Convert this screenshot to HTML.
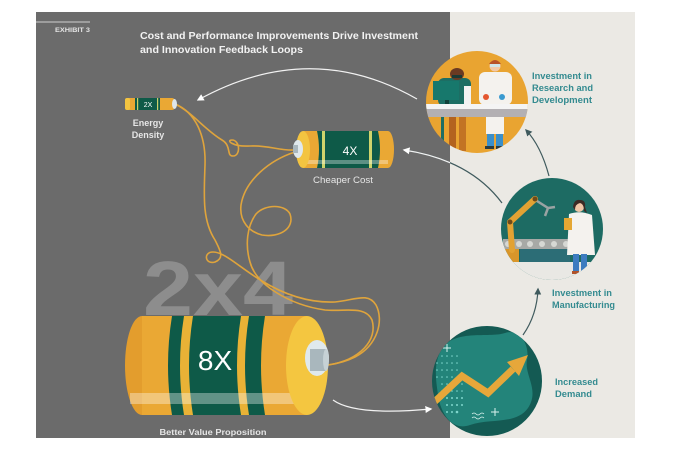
<!DOCTYPE html>
<html><head><meta charset="utf-8">
<style>
html,body{margin:0;padding:0;background:#fff;}
svg{display:block;}
text{font-family:"Liberation Sans",sans-serif;}
</style></head><body>
<svg width="680" height="449" viewBox="0 0 680 449" xmlns="http://www.w3.org/2000/svg">
<defs>
  <marker id="mw" viewBox="0 0 10 10" refX="8" refY="5" markerWidth="7" markerHeight="7" markerUnits="userSpaceOnUse" orient="auto"><path d="M0,0 L10,5 L0,10 z" fill="#ffffff"/></marker>
  <marker id="md" viewBox="0 0 10 10" refX="8" refY="5" markerWidth="7" markerHeight="7" markerUnits="userSpaceOnUse" orient="auto"><path d="M0,0 L10,5 L0,10 z" fill="#3f5a5d"/></marker>
  <clipPath id="cgray"><rect x="36" y="12" width="414" height="426"/></clipPath>
  <clipPath id="crd"><circle cx="477" cy="102" r="51"/></clipPath>
  <clipPath id="cmf"><circle cx="552" cy="229" r="51"/></clipPath>
  <clipPath id="cdm"><circle cx="487" cy="381" r="55"/></clipPath>
</defs>
<rect width="680" height="449" fill="#fff"/>
<rect x="36" y="12" width="414" height="426" fill="#6b6b6b"/>
<rect x="450" y="12" width="185" height="426" fill="#ebe9e4"/>

<!-- header -->
<line x1="36" y1="22" x2="90" y2="22" stroke="#cfcfcf" stroke-width="1"/>
<text x="55" y="32" font-size="6.5" font-weight="bold" fill="#e4e4e4" textLength="35" lengthAdjust="spacingAndGlyphs">EXHIBIT 3</text>
<text x="140" y="39" font-size="10" font-weight="bold" fill="#f2f2f2" textLength="278" lengthAdjust="spacingAndGlyphs">Cost and Performance Improvements Drive Investment</text>
<text x="140" y="53" font-size="10" font-weight="bold" fill="#f2f2f2" textLength="163" lengthAdjust="spacingAndGlyphs">and Innovation Feedback Loops</text>

<!-- big 2x4 -->
<text x="143" y="315" font-size="77" font-weight="bold" fill="#8d8d8d" textLength="150" lengthAdjust="spacingAndGlyphs">2x4</text>

<!-- arrows -->
<path d="M417,99 Q310,38 198,100" fill="none" stroke="#f2f2f2" stroke-width="1.2" marker-end="url(#mw)"/>
<path d="M502,203 Q470,160 404,150" fill="none" stroke="#3f5a5d" stroke-width="1.2"/>
<path d="M502,203 Q470,160 404,150" fill="none" stroke="#f2f2f2" stroke-width="1.2" clip-path="url(#cgray)" marker-end="url(#mw)"/>
<path d="M333,400 Q355,416 431,409" fill="none" stroke="#f2f2f2" stroke-width="1.2" marker-end="url(#mw)"/>
<path d="M549,176 Q541,146 526,130" fill="none" stroke="#3f5a5d" stroke-width="1.2" marker-end="url(#md)"/>
<path d="M523,335 Q537,315 538,289" fill="none" stroke="#3f5a5d" stroke-width="1.2" marker-end="url(#md)"/>

<!-- wires -->
<g fill="none" stroke="#dfa43c" stroke-width="1.6" stroke-linecap="round">
  <path d="M175,104 C192,112 205,130 222,140 C232,146 226,156 233,156 C241,156 240,140 232,140 C226,140 232,147 250,146 C268,145 280,151 295,150"/>
  <path d="M175,104 C195,112 206,135 205,165 C204,195 202,220 215,240 C220,250 225,258 215,262 C205,265 203,252 213,252 C225,252 240,268 262,281 C285,295 310,303 335,302 C355,300 368,292 376,305 C384,320 378,345 355,357 C345,362 335,364 328,365"/>
  <path d="M295,152 C270,160 245,180 241,205 C239,222 250,232 262,235 C280,238 295,228 290,214 C285,204 265,204 256,214 C247,226 245,245 250,262 C256,285 290,305 325,310 C345,312 365,305 372,320 C378,340 360,360 328,365"/>
</g>

<!-- small battery -->
<rect x="125" y="98" width="50" height="12" rx="3" fill="#eaa834"/>
<rect x="125" y="98" width="5" height="12" rx="2" fill="#f3c441"/>
<rect x="135" y="98" width="25" height="12" fill="#0e5a48"/>
<rect x="137" y="98" width="1.2" height="12" fill="#c9d06a"/>
<rect x="157" y="98" width="1.2" height="12" fill="#c9d06a"/>
<ellipse cx="174.5" cy="104" rx="2.5" ry="5" fill="#dde6ea"/>
<text x="148" y="107" font-size="7" fill="#ffffff" text-anchor="middle">2X</text>
<text x="148" y="126" font-size="9" font-weight="bold" fill="#e6e6e6" text-anchor="middle">Energy</text>
<text x="148" y="138" font-size="9" font-weight="bold" fill="#e6e6e6" text-anchor="middle">Density</text>

<!-- medium battery -->
<ellipse cx="388" cy="149.5" rx="6" ry="18.5" fill="#eaa834"/>
<rect x="303" y="131" width="85" height="37" fill="#eaa834"/>
<path d="M317,131 Q321,149.5 317,168 L378,168 Q382,149.5 378,131 Z" fill="#0e5a48"/>
<rect x="322" y="131" width="3" height="37" fill="#cfd46c"/>
<rect x="369" y="131" width="3" height="37" fill="#cfd46c"/>
<rect x="305" y="160" width="83" height="4" fill="#ffffff" fill-opacity="0.33"/>
<ellipse cx="303" cy="149.5" rx="7" ry="18.5" fill="#f3c441"/>
<ellipse cx="298" cy="149" rx="5" ry="9" fill="#dfe8ec"/>
<rect x="293" y="145" width="5" height="8" fill="#a9b7bd"/>
<text x="350" y="155" font-size="12" fill="#ffffff" text-anchor="middle">4X</text>
<text x="343" y="183" font-size="9" fill="#e6e6e6" text-anchor="middle" textLength="60" lengthAdjust="spacingAndGlyphs">Cheaper Cost</text>

<!-- big battery -->
<ellipse cx="142" cy="365.5" rx="17" ry="49.5" fill="#e39d2d"/>
<rect x="142" y="316" width="165" height="99" fill="#eaa834"/>
<path d="M172,316 Q164,365.5 172,415 L265,415 Q257,365.5 265,316 Z" fill="#0e5a48"/>
<path d="M184,316 Q176,365.5 184,415 L193,415 Q185,365.5 193,316 Z" fill="#e9b236"/>
<path d="M241,316 Q233,365.5 241,415 L249,415 Q241,365.5 249,316 Z" fill="#e9b236"/>
<rect x="130" y="393" width="177" height="11" fill="#ffffff" fill-opacity="0.35"/>
<ellipse cx="307" cy="365.5" rx="21" ry="49.5" fill="#f4c640"/>
<ellipse cx="317" cy="358" rx="12" ry="18" fill="#dfe9ed"/>
<rect x="310" y="349" width="16" height="22" fill="#a9b7bd"/>
<ellipse cx="326" cy="360" rx="3" ry="11" fill="#c6d1d5"/>
<text x="215" y="370" font-size="28" fill="#ffffff" text-anchor="middle">8X</text>
<text x="213" y="435" font-size="8" font-weight="bold" fill="#e6e6e6" text-anchor="middle" textLength="107" lengthAdjust="spacingAndGlyphs">Better Value Proposition</text>

<!-- R&D circle -->
<circle cx="477" cy="102" r="51" fill="#e9a431"/>
<g clip-path="url(#crd)">
  <rect x="438" y="78" width="33" height="28" rx="6" fill="#1d6e64"/>
  <ellipse cx="457" cy="74" rx="7" ry="6" fill="#6b3a22"/>
  <rect x="452" y="75" width="10" height="3" fill="#1b3a35"/>
  <rect x="433" y="81" width="26" height="19" fill="#17786c"/>
  <rect x="445" y="100" width="4" height="5" fill="#11403a"/>
  <rect x="464" y="86" width="7" height="19" fill="#f2f2f2"/>
  <rect x="479" y="72" width="33" height="33" rx="6" fill="#f4f2ee"/>
  <circle cx="495" cy="66" r="5.5" fill="#f2c8a8"/>
  <path d="M489,64 Q495,56 501,64 Z" fill="#b8522a"/>
  <rect x="490" y="64" width="10" height="3" fill="#cfe5ea"/>
  <circle cx="486" cy="97" r="3" fill="#e4562e"/>
  <circle cx="502" cy="97" r="3" fill="#3a9ad0"/>
  <rect x="420" y="104" width="120" height="5" fill="#f4f4f4"/>
  <rect x="420" y="109" width="120" height="8" fill="#b3b0b3"/>
  <rect x="441" y="117" width="3" height="40" fill="#1d6e64"/>
  <rect x="449" y="117" width="7" height="34" fill="#b3631f"/>
  <rect x="459" y="117" width="7" height="34" fill="#c27324"/>
  <rect x="486" y="117" width="18" height="17" fill="#f4f2ee"/>
  <rect x="487" y="134" width="7" height="12" fill="#3a8fc9"/>
  <rect x="496" y="134" width="7" height="12" fill="#3a8fc9"/>
  <rect x="485" y="146" width="9" height="3" fill="#2b3b3d"/>
  <rect x="496" y="146" width="9" height="3" fill="#2b3b3d"/>
</g>
<g font-size="9" font-weight="bold" fill="#348b90">
  <text x="532" y="79" textLength="60" lengthAdjust="spacingAndGlyphs">Investment in</text>
  <text x="532" y="91" textLength="61" lengthAdjust="spacingAndGlyphs">Research and</text>
  <text x="532" y="103" textLength="60" lengthAdjust="spacingAndGlyphs">Development</text>
</g>

<!-- Manufacturing circle -->
<circle cx="552" cy="229" r="51" fill="#1d6b63"/>
<g clip-path="url(#cmf)">
  <rect x="500" y="262" width="105" height="20" fill="#e9e8e4"/>
  <rect x="503" y="239" width="70" height="10" fill="#a7a9a6"/>
  <g fill="#d6d8d4"><circle cx="508" cy="244" r="3"/><circle cx="519" cy="244" r="3"/><circle cx="530" cy="244" r="3"/><circle cx="542" cy="244" r="3"/><circle cx="554" cy="244" r="3"/><circle cx="566" cy="244" r="3"/></g>
  <rect x="505" y="249" width="14" height="13" fill="#d9962a"/>
  <rect x="520" y="249" width="50" height="13" fill="#3b6f8a" fill-opacity="0.5"/>
  <path d="M512,250 L510,222 L535,199" fill="none" stroke="#e2a233" stroke-width="6" stroke-linecap="round" stroke-linejoin="round"/>
  <circle cx="510" cy="222" r="2.5" fill="#6d4a1a"/>
  <circle cx="535" cy="199" r="2.5" fill="#6d4a1a"/>
  <path d="M537,201 L548,208 L545,216 M548,208 L555,207" fill="none" stroke="#9aa3a3" stroke-width="2.5"/>
  <path d="M569,214 Q580,210 592,215 L595,255 L567,255 Z" fill="#f4f2ee"/>
  <circle cx="579" cy="207" r="5" fill="#f0c6a6"/>
  <path d="M573,207 Q574,199 580,200 Q586,200 585,207 L587,213 L584,211 Q584,204 580,203 Q575,204 575,210 Z" fill="#3b2a24"/>
  <rect x="564" y="218" width="8" height="12" fill="#e5a733"/>
  <rect x="573" y="254" width="6" height="18" fill="#3d7cc0"/>
  <rect x="581" y="254" width="6" height="18" fill="#3d7cc0"/>
  <rect x="572" y="271" width="7" height="3" fill="#b0532a"/>
</g>
<g font-size="9" font-weight="bold" fill="#348b90">
  <text x="552" y="296" textLength="60" lengthAdjust="spacingAndGlyphs">Investment in</text>
  <text x="552" y="308" textLength="63" lengthAdjust="spacingAndGlyphs">Manufacturing</text>
</g>

<!-- Demand circle -->
<circle cx="487" cy="381" r="55" fill="#145a53"/>
<g clip-path="url(#cdm)">
  <path d="M445,345 C460,330 490,338 505,333 C520,328 530,345 527,360 C524,375 540,390 528,408 C516,425 490,418 470,425 C450,432 440,410 438,395 C436,380 432,360 445,345 Z" fill="#23847a"/>
  <g fill="#7fd6cc">
    <circle cx="437" cy="356" r="0.8"/><circle cx="442" cy="356" r="0.8"/><circle cx="447" cy="356" r="0.8"/><circle cx="452" cy="356" r="0.8"/><circle cx="457" cy="356" r="0.8"/>
    <circle cx="437" cy="363" r="0.8"/><circle cx="442" cy="363" r="0.8"/><circle cx="447" cy="363" r="0.8"/><circle cx="452" cy="363" r="0.8"/><circle cx="457" cy="363" r="0.8"/>
    <circle cx="437" cy="370" r="0.8"/><circle cx="442" cy="370" r="0.8"/><circle cx="447" cy="370" r="0.8"/><circle cx="452" cy="370" r="0.8"/><circle cx="457" cy="370" r="0.8"/>
    <circle cx="437" cy="377" r="0.8"/><circle cx="442" cy="377" r="0.8"/><circle cx="447" cy="377" r="0.8"/><circle cx="452" cy="377" r="0.8"/>
    <circle cx="442" cy="384" r="0.8"/><circle cx="447" cy="384" r="0.8"/><circle cx="452" cy="384" r="0.8"/><circle cx="457" cy="384" r="0.8"/><circle cx="462" cy="384" r="0.8"/>
    <circle cx="442" cy="391" r="0.8"/><circle cx="447" cy="391" r="0.8"/><circle cx="452" cy="391" r="0.8"/><circle cx="457" cy="391" r="0.8"/><circle cx="462" cy="391" r="0.8"/>
    <circle cx="442" cy="398" r="1"/><circle cx="447" cy="398" r="1"/><circle cx="452" cy="398" r="1"/><circle cx="457" cy="398" r="1"/><circle cx="462" cy="398" r="1"/>
    <circle cx="447" cy="405" r="1"/><circle cx="452" cy="405" r="1"/><circle cx="457" cy="405" r="1"/><circle cx="462" cy="405" r="1"/>
    <circle cx="447" cy="412" r="1"/><circle cx="452" cy="412" r="1"/><circle cx="457" cy="412" r="1.3"/>
  </g>
  <path d="M447,344 v8 M443,348 h8 M495,408 v8 M491,412 h8" stroke="#d9f2ee" stroke-width="1"/>
  <path d="M472,414 q2,-2 4,0 t4,0 t4,0 M472,418 q2,-2 4,0 t4,0 t4,0" fill="none" stroke="#d9f2ee" stroke-width="0.8"/>
  <polyline points="430,406 462,376 488,393 513,369" fill="none" stroke="#e6a73a" stroke-width="7" stroke-linejoin="miter"/>
  <polygon points="528,355 519,376 507,362" fill="#e6a73a"/>
</g>
<g font-size="9" font-weight="bold" fill="#348b90">
  <text x="555" y="385" textLength="43" lengthAdjust="spacingAndGlyphs">Increased</text>
  <text x="555" y="397" textLength="37" lengthAdjust="spacingAndGlyphs">Demand</text>
</g>
</svg>
</body></html>
